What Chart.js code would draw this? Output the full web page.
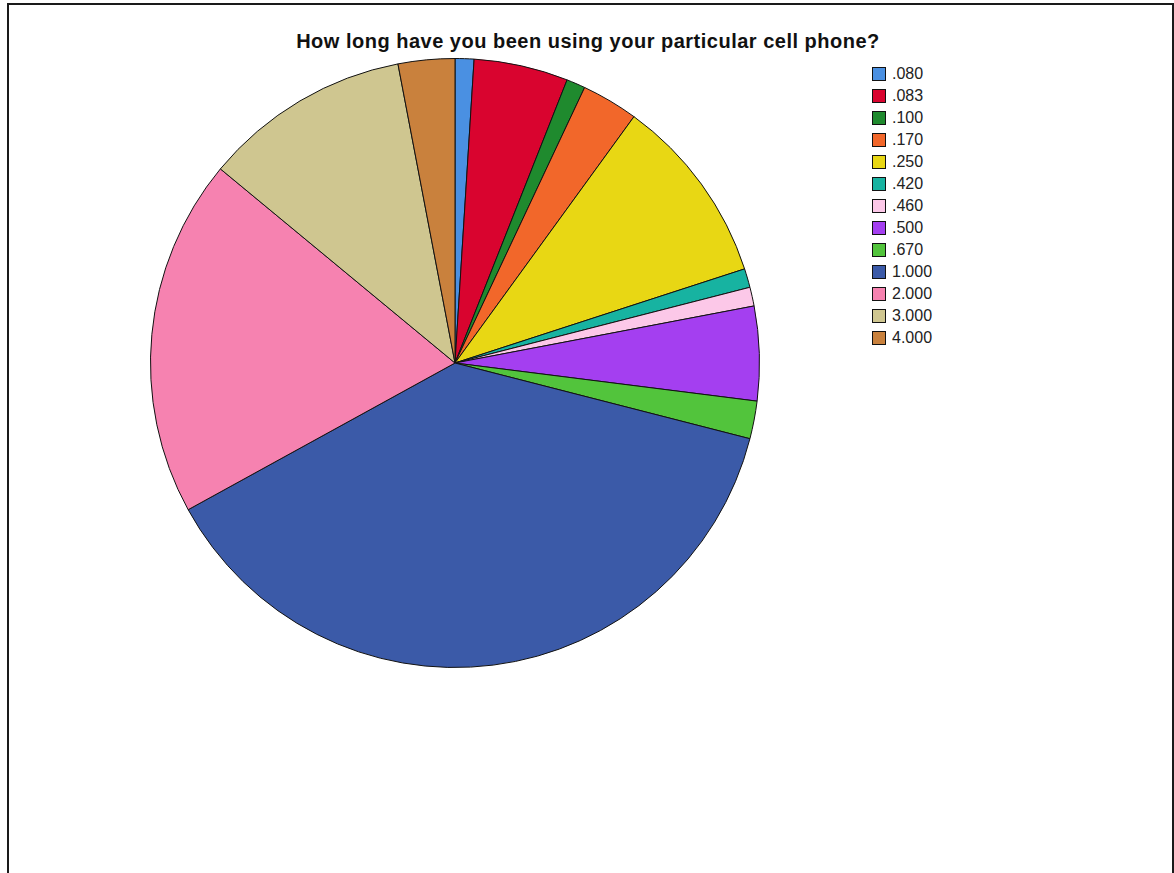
<!DOCTYPE html>
<html>
<head>
<meta charset="utf-8">
<script src="https://cdn.jsdelivr.net/npm/chart.js@4/dist/chart.umd.min.js"></script>
<style>
  body { margin: 0; background: #fff; font-family: "Liberation Sans", Arial, sans-serif; }
  #frame { position: absolute; left: 7px; top: 3px; width: 1163px; height: 900px;
           border: 2px solid #1a1a1a; border-bottom: none; }
  #title { position: absolute; left: 0; width: 1176px; top: 30px; text-align: center;
           font-weight: bold; font-size: 20px; letter-spacing: 0.5px; color: #111; }
  #pieBox { position: absolute; left: 150px; top: 58px; width: 610px; height: 610px; }
  #legend { position: absolute; left: 872px; top: 63px; }
  .item { height: 22px; display: flex; align-items: center; font-size: 16px; color: #222; }
  .sw { width: 14px; height: 14px; box-sizing: border-box; border: 1px solid #111; margin-right: 6px; }
</style>
</head>
<body>
<div id="frame"></div>
<div id="title">How long have you been using your particular cell phone?</div>
<div id="pieBox"><canvas id="pie"></canvas></div>
<div id="legend"></div>
<script>
const labels = ['.080', '.083', '.100', '.170', '.250', '.420', '.460', '.500', '.670', '1.000', '2.000', '3.000', '4.000'];
const counts = [1, 5, 1, 3, 10, 1, 1, 5, 2, 38, 19, 11, 3];
const colors = ['#4a90e2', '#d9042f', '#1f8a2e', '#f2672a', '#e8d714', '#17b3a1', '#fcc8e8',
                '#a43ff0', '#52c43c', '#3b5aa8', '#f682b0', '#cfc690', '#c9813d'];

const chart = new Chart(document.getElementById('pie'), {
  type: 'pie',
  data: {
    labels: labels,
    datasets: [{ data: counts, backgroundColor: colors, borderColor: '#111', borderWidth: 1 }]
  },
  options: {
    responsive: true,
    maintainAspectRatio: false,
    animation: false,
    layout: { padding: 0 },
    plugins: { legend: { display: false }, title: { display: false }, tooltip: { enabled: false } }
  }
});

// legend built from the same arrays
const legendEl = document.getElementById('legend');
labels.forEach((l, i) => {
  const row = document.createElement('div');
  row.className = 'item';
  row.innerHTML = `<span class="sw" style="background:${colors[i]}"></span>${l}`;
  legendEl.appendChild(row);
});
</script>
</body>
</html>
